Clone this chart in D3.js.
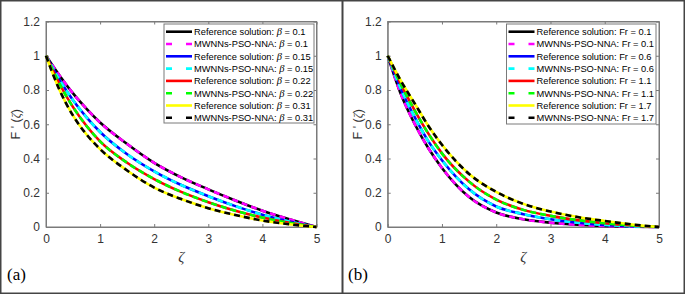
<!DOCTYPE html>
<html><head><meta charset="utf-8">
<script src="https://cdn.jsdelivr.net/npm/d3@7"></script>
<style>body{margin:0;background:#fff}svg{display:block}</style>
</head><body>
<svg id="c" width="685" height="294"></svg>
<script>
const zeta = [0,0.25,0.5,0.75,1,1.5,2,2.5,3,3.5,4,4.5,5];
// Panel (a): beta
const betaLabels = ["0.1","0.15","0.22","0.31"];
const beta01  = [1,0.885,0.78,0.69,0.61,0.485,0.375,0.29,0.22,0.155,0.095,0.045,0];
const beta015 = [1,0.86,0.74,0.64,0.555,0.425,0.325,0.245,0.18,0.122,0.072,0.032,0];
const beta022 = [1,0.835,0.70,0.59,0.50,0.375,0.28,0.205,0.145,0.095,0.055,0.024,0];
const beta031 = [1,0.80,0.65,0.54,0.455,0.33,0.23,0.163,0.11,0.07,0.038,0.016,0];
// Panel (b): Fr
const frLabels = ["0.1","0.6","1.1","1.7"];
const fr01 = [1,0.77,0.60,0.46,0.345,0.175,0.085,0.045,0.025,0.013,0.006,0.002,0];
const fr06 = [1,0.80,0.64,0.50,0.39,0.22,0.12,0.075,0.045,0.025,0.012,0.004,0];
const fr11 = [1,0.83,0.68,0.545,0.43,0.265,0.16,0.10,0.065,0.04,0.022,0.009,0];
const fr17 = [1,0.85,0.72,0.59,0.48,0.31,0.205,0.135,0.09,0.058,0.035,0.015,0];

const xTicks = [0,1,2,3,4,5];
const yTicks = [0,0.2,0.4,0.6,0.8,1,1.2];
const yTickLabels = ["0","0.2","0.4","0.6","0.8","1","1.2"];

const refColors = ["#000000","#0000ff","#ff0000","#ffff00"];
const nnColors  = ["#ff00ff","#00ffff","#00ff00","#000000"];

const svg = d3.select("#c");

// frames
svg.append("rect").attr("x",0.75).attr("y",0.75).attr("width",341.5).attr("height",292.5)
  .attr("fill","none").attr("stroke","#444").attr("stroke-width",1.5);
svg.append("rect").attr("x",342.75).attr("y",0.75).attr("width",341.5).attr("height",292.5)
  .attr("fill","none").attr("stroke","#444").attr("stroke-width",1.5);

function panel(opt){
  const {x0,x1,y0,y1,series,labels,param,paramItalic,legend,tag,tagX} = opt;
  const x = d3.scaleLinear().domain([0,5]).range([x0,x1]);
  const y = d3.scaleLinear().domain([0,1.2]).range([y1,y0]);
  const g = svg.append("g");
  const axCol = "#7a7a7a";
  g.append("rect").attr("x",x0).attr("y",y0).attr("width",x1-x0).attr("height",y1-y0)
    .attr("fill","none").attr("stroke",axCol).attr("stroke-width",1);
  const xa = g.append("g").attr("transform",`translate(0,${y1})`)
    .call(d3.axisBottom(x).tickValues(xTicks).tickSizeInner(-3).tickSizeOuter(0).tickPadding(7).tickFormat(d3.format("d")));
  const xt = g.append("g").attr("transform",`translate(0,${y0})`)
    .call(d3.axisTop(x).tickValues(xTicks).tickSizeInner(-3).tickSizeOuter(0).tickFormat(""));
  const ya = g.append("g").attr("transform",`translate(${x0},0)`)
    .call(d3.axisLeft(y).tickValues(yTicks).tickSizeInner(-3).tickSizeOuter(0).tickPadding(6).tickFormat((d,i)=>yTickLabels[i]));
  const yr = g.append("g").attr("transform",`translate(${x1},0)`)
    .call(d3.axisRight(y).tickValues(yTicks).tickSizeInner(-3).tickSizeOuter(0).tickFormat(""));
  [xa,xt,ya,yr].forEach(a=>{
    a.select(".domain").attr("stroke",axCol);
    a.selectAll(".tick line").attr("stroke",axCol);
    a.selectAll("text").attr("fill","#333").style("font-family","'Liberation Sans',Arial,sans-serif").style("font-size","12px");
  });

  const line = d3.line().x((d,i)=>x(zeta[i])).y(d=>y(d)).curve(d3.curveMonotoneX);
  series.forEach((s,i)=>{
    g.append("path").datum(s).attr("d",line).attr("fill","none")
      .attr("stroke",refColors[i]).attr("stroke-width",2.6);
    g.append("path").datum(s).attr("d",line).attr("fill","none")
      .attr("stroke",nnColors[i]).attr("stroke-width",2.6).attr("stroke-dasharray","6,4");
  });

  const L = legend;
  g.append("rect").attr("x",L.x).attr("y",L.y).attr("width",L.w).attr("height",L.h)
    .attr("fill","#fff").attr("stroke",axCol).attr("stroke-width",1);
  const rowH = 12.3;
  let r = 0;
  series.forEach((s,i)=>{
    ["ref","nn"].forEach(kind=>{
      const yy = L.y + 7.7 + r*rowH;
      const ln = g.append("line").attr("x1",L.x+2).attr("x2",L.x+28).attr("y1",yy).attr("y2",yy)
        .attr("stroke-width",2.6).attr("stroke",kind==="ref"?refColors[i]:nnColors[i]);
      if(kind==="nn") ln.attr("stroke-dasharray","6,14,6");
      const t = g.append("text").attr("x",L.x+30).attr("y",yy+3.4)
        .style("font-family","'Liberation Sans',Arial,sans-serif").style("font-size","9.3px").attr("fill","#000");
      t.append("tspan").text(kind==="ref"?"Reference solution: ":"MWNNs-PSO-NNA: ");
      const p = t.append("tspan").text(param);
      if(paramItalic) p.style("font-family","'Liberation Serif',serif").style("font-style","italic").style("font-size","10.5px");
      t.append("tspan").text(" = "+labels[i]);
      r++;
    });
  });

  g.append("text").attr("x",(x0+x1)/2).attr("y",262).attr("text-anchor","middle")
    .style("font-family","'Liberation Serif',serif").style("font-style","italic").style("font-size","15px")
    .attr("fill","#333").text("ζ");
  const yl = g.append("text").attr("transform",`translate(${x0-26},${(y0+y1)/2}) rotate(-90)`)
    .attr("text-anchor","middle").style("font-family","'Liberation Sans',Arial,sans-serif").style("font-size","12.5px").attr("fill","#333");
  yl.append("tspan").text("F ' (");
  yl.append("tspan").text("ζ").style("font-family","'Liberation Serif',serif").style("font-style","italic");
  yl.append("tspan").text(")");
  g.append("text").attr("x",tagX).attr("y",280).style("font-family","'Liberation Serif','Times New Roman',serif")
    .style("font-size","17px").attr("fill","#000").text(tag);
}

panel({x0:46,x1:316.5,y0:21.5,y1:227,series:[beta01,beta015,beta022,beta031],labels:betaLabels,
  param:"β",paramItalic:true,legend:{x:164,y:24,w:150,h:99},tag:"(a)",tagX:7});
panel({x0:387.7,x1:659,y0:21.5,y1:227,series:[fr01,fr06,fr11,fr17],labels:frLabels,
  param:"Fr",paramItalic:false,legend:{x:506.5,y:24,w:149.5,h:100},tag:"(b)",tagX:348});
</script>
</body></html>
